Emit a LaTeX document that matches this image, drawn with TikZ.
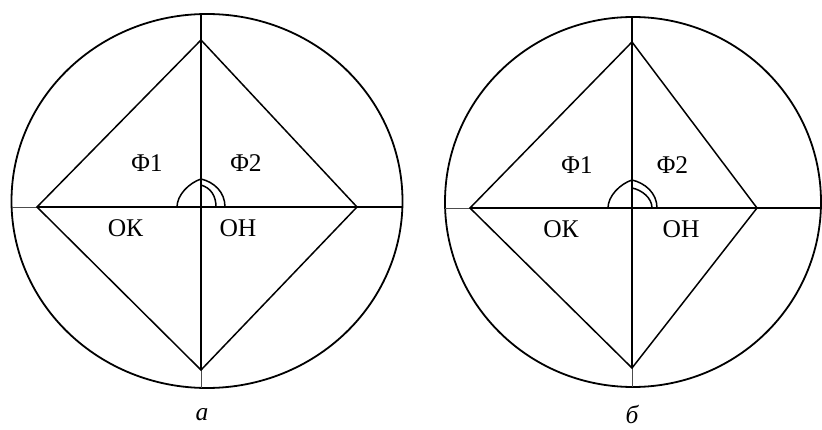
\documentclass[tikz,border=0pt]{standalone}
\usepackage{fontspec}
\setmainfont{Liberation Serif}
\usetikzlibrary{calc}

\begin{document}
\begin{tikzpicture}[x=1pt,y=-1pt,line width=1.5pt,
  every node/.style={font=\fontsize{25.5}{26}\selectfont, inner sep=0pt},
  stub/.style={line width=0.8pt, black!70},
  rim/.style={line width=1.8pt}]
\useasboundingbox (0,0) rectangle (822,430);

\coordinate (a_c) at (201,207);
\coordinate (a_top) at (201,40);
\coordinate (a_bot) at (201,370);
\coordinate (a_left) at (37,207);
\coordinate (a_right) at (357,207);
\coordinate (a_n) at (201,14);
\coordinate (a_s) at (201,388);
\coordinate (a_w) at (12,207);
\coordinate (a_e) at (403,207);

\draw[rim] (207,201) ellipse [x radius=195.5pt, y radius=187pt];
\draw[stub] (a_w) -- (a_left);
\draw[rim] (a_left) -- (a_e);
\draw[rim] (a_n) -- (a_bot);
\draw[stub] (a_bot) -- (a_s);
\draw (a_top) -- (a_right) -- (a_bot) -- (a_left) -- cycle;
\draw (177,207) .. controls (177,195) and (189,183) .. (201,179) .. controls (214,182) and (225,192) .. (225,207);
\draw (201,185) .. controls (211,188) and (216,196) .. (216,207);

\node[name=a_phi1] at (147,163.5) {Φ1};
\node[name=a_phi2] at (246,163.5) {Φ2};
\node[name=a_ok] at (125.5,228.5) {ОК};
\node[name=a_oh] at (238,228.5) {ОН};
\node[name=a_cap] at (202,415) {\itshape а};

\coordinate (b_c) at (632,208);
\coordinate (b_top) at (632,42);
\coordinate (b_bot) at (632,368);
\coordinate (b_left) at (470,208);
\coordinate (b_right) at (757,208);
\coordinate (b_n) at (632,17);
\coordinate (b_s) at (632,387);
\coordinate (b_w) at (445,208);
\coordinate (b_e) at (822,208);

\draw[rim] (633,202) ellipse [x radius=188pt, y radius=185pt];
\draw[stub] (b_w) -- (b_left);
\draw[rim] (b_left) -- (b_e);
\draw[rim] (b_n) -- (b_bot);
\draw[stub] (b_bot) -- (b_s);
\draw (b_top) -- (b_right) -- (b_bot) -- (b_left) -- cycle;
\draw (608,208) .. controls (608,196) and (620,184) .. (632,180) .. controls (645,183) and (657,193) .. (657,208);
\draw (632,188) .. controls (642,190) and (652,198) .. (652,208);

\node[name=b_phi1] at (577,165) {Φ1};
\node[name=b_phi2] at (672.5,165) {Φ2};
\node[name=b_ok] at (561,229) {ОК};
\node[name=b_oh] at (681,229) {ОН};
\node[name=b_cap] at (632,414) {\itshape б};
\end{tikzpicture}
\end{document}
